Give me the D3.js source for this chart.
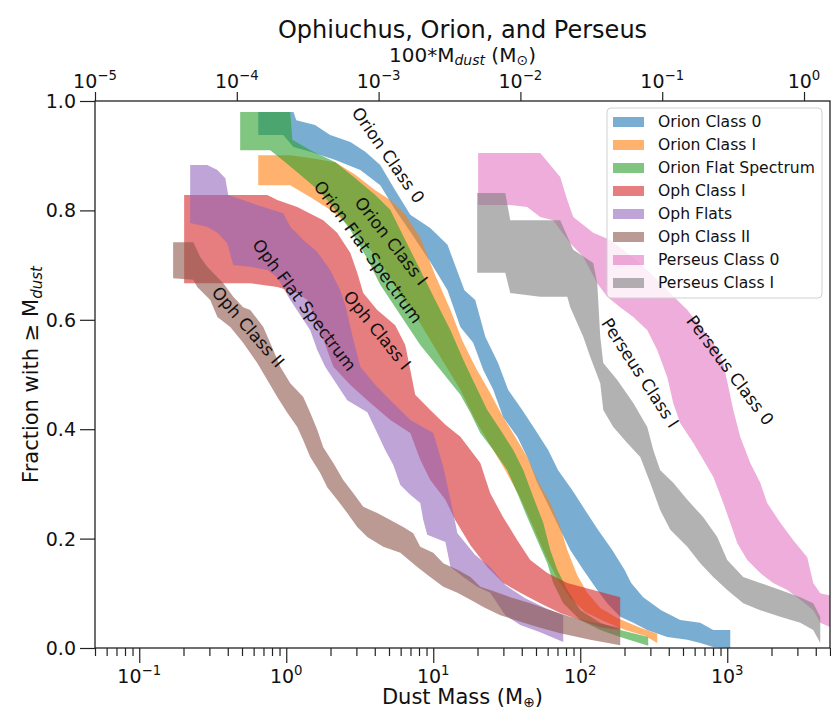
<!DOCTYPE html>
<html>
<head>
<meta charset="utf-8">
<script src="https://cdn.jsdelivr.net/npm/d3@7/dist/d3.min.js"></script>
<style>
  body { margin: 0; background: #fff; }
  svg { display: block; }
  text { font-family: "DejaVu Sans", sans-serif; fill: #111; }
</style>
</head>
<body>
<svg id="chart" width="831" height="711"></svg>
<script>
// ---- axis ticks ----
const massTicks = [0.1, 1, 10, 100, 1000];
const massTickExp = ["\u22121", "0", "1", "2", "3"];
const topTicks = [1e-5, 1e-4, 1e-3, 1e-2, 1e-1, 1];
const topTickExp = ["\u22125", "\u22124", "\u22123", "\u22122", "\u22121", "0"];
const fracTicks = [0, 0.2, 0.4, 0.6, 0.8, 1.0];

// ---- series (legend order) ----
const seriesNames = ["Orion Class 0", "Orion Class I", "Orion Flat Spectrum", "Oph Class I",
  "Oph Flats", "Oph Class II", "Perseus Class 0", "Perseus Class I"];
const seriesColors = ["#1f77b4", "#ff7f0e", "#2ca02c", "#d62728",
  "#9467bd", "#8c564b", "#e377c2", "#7f7f7f"];

// Each band: upper/right boundary and lower/left boundary as [dust mass (M_earth), fraction]
const orionClass0Upper = [[0.645,0.980],[1.12,0.980],[1.17,0.965],[1.57,0.956],[1.99,0.938],[2.73,0.925],[3.45,0.907],[4.36,0.883],[5.51,0.837],[6.98,0.792],[9.54,0.768],[12.5,0.737],[16.3,0.654],[19.3,0.636],[22.6,0.569],[27.6,0.521],[32.3,0.472],[40.3,0.435],[49.4,0.399],[60.5,0.362],[70.7,0.325],[88.1,0.289],[108,0.252],[132,0.216],[165,0.179],[200,0.143],[222,0.119],[268,0.093],[355,0.069],[479,0.051],[655,0.046],[803,0.033],[1048,0.033]];
const orionClass0Lower = [[0.645,0.938],[0.954,0.938],[1.12,0.916],[1.46,0.907],[2.16,0.892],[3.19,0.874],[4.36,0.846],[5.51,0.801],[6.98,0.761],[9.54,0.706],[12.5,0.654],[15.3,0.587],[18.7,0.558],[21.9,0.508],[25.6,0.472],[29.9,0.422],[37.3,0.386],[43.6,0.349],[51.0,0.302],[59.7,0.265],[73.1,0.216],[85.5,0.179],[104.8,0.143],[130.5,0.106],[152.6,0.082],[187,0.057],[229.5,0.046],[285.6,0.033],[391,0.020],[535,0.015],[655,0.009],[803,0.002],[1048,0.0]];

const orionClass1Upper = [[0.645,0.901],[1.065,0.901],[1.46,0.896],[2.16,0.888],[2.95,0.865],[4.03,0.837],[5.10,0.819],[6.45,0.792],[8.16,0.750],[10.3,0.682],[13.1,0.618],[15.7,0.563],[19.3,0.514],[24.4,0.466],[29.9,0.422],[37.3,0.380],[43.6,0.349],[51.0,0.307],[62.5,0.265],[73.1,0.221],[81.6,0.179],[95.4,0.133],[111.6,0.101],[136.8,0.073],[178.6,0.055],[256,0.037],[334,0.026]];
const orionClass1Lower = [[0.645,0.846],[1.065,0.846],[1.46,0.824],[1.99,0.801],[2.73,0.770],[3.73,0.728],[4.71,0.691],[5.97,0.645],[7.54,0.609],[9.54,0.563],[12.1,0.517],[15.3,0.472],[19.3,0.417],[24.4,0.371],[30.9,0.325],[39.1,0.274],[47.2,0.225],[57.8,0.170],[70.8,0.124],[85.5,0.091],[108.2,0.066],[147.9,0.048],[202.5,0.033],[276.7,0.022],[334,0.009]];

const orionFlatUpper = [[0.486,0.980],[1.065,0.980],[1.099,0.929],[1.46,0.910],[2.16,0.888],[2.95,0.859],[4.03,0.828],[5.10,0.801],[6.45,0.746],[8.16,0.691],[10.3,0.636],[13.1,0.581],[16.0,0.527],[19.3,0.481],[23.3,0.435],[28.6,0.399],[35.0,0.362],[41.0,0.325],[47.9,0.276],[56.0,0.229],[62.5,0.179],[69.8,0.143],[81.6,0.106],[100,0.069],[136.8,0.046],[187,0.033],[290,0.020]];
const orionFlatLower = [[0.486,0.910],[0.778,0.910],[0.984,0.888],[1.245,0.865],[1.70,0.834],[2.16,0.801],[2.73,0.764],[3.45,0.718],[4.36,0.664],[5.97,0.609],[8.16,0.554],[11.2,0.508],[15.3,0.463],[17.9,0.430],[20.9,0.393],[25.6,0.362],[31.9,0.325],[37.3,0.283],[43.6,0.239],[51.0,0.197],[59.7,0.155],[65.5,0.119],[76.6,0.082],[100,0.051],[136.8,0.033],[187,0.020],[290,0.004]];

const ophClass1Upper = [[0.202,0.828],[0.743,0.828],[0.869,0.819],[1.188,0.806],[1.785,0.782],[2.22,0.759],[2.73,0.722],[3.04,0.686],[3.34,0.649],[4.16,0.618],[5.51,0.590],[6.45,0.554],[6.98,0.508],[7.54,0.463],[9.54,0.435],[12.1,0.408],[15.3,0.386],[20.9,0.338],[24.4,0.283],[29.9,0.239],[37.3,0.197],[45.7,0.161],[59.7,0.137],[81.6,0.119],[122.5,0.106],[187,0.093]];
const ophClass1Lower = [[0.202,0.667],[0.569,0.667],[0.869,0.660],[1.188,0.649],[1.39,0.636],[1.70,0.581],[2.09,0.514],[2.73,0.481],[3.56,0.453],[5.10,0.417],[6.98,0.393],[8.16,0.344],[9.54,0.307],[12.1,0.271],[14.1,0.234],[17.9,0.188],[23.3,0.148],[29.9,0.119],[39.1,0.101],[53.4,0.082],[73.1,0.064],[100,0.051],[136.8,0.038],[187,0.033]];

const ophFlatsUpper = [[0.222,0.883],[0.290,0.883],[0.340,0.874],[0.385,0.859],[0.403,0.828],[0.698,0.806],[0.954,0.795],[1.065,0.770],[1.305,0.746],[1.625,0.724],[1.99,0.691],[2.33,0.654],[2.52,0.627],[2.81,0.572],[3.19,0.514],[4.03,0.481],[5.10,0.453],[6.98,0.417],[10.0,0.393],[11.7,0.331],[13.1,0.271],[14.6,0.210],[19.3,0.170],[24.4,0.148],[30.9,0.115],[42.2,0.091],[57.8,0.073],[76.6,0.060]];
const ophFlatsLower = [[0.222,0.777],[0.290,0.770],[0.340,0.759],[0.397,0.740],[0.436,0.700],[0.569,0.697],[0.743,0.691],[0.869,0.678],[1.065,0.636],[1.245,0.609],[1.456,0.581],[1.625,0.545],[1.84,0.514],[2.60,0.453],[3.56,0.431],[4.16,0.393],[4.71,0.362],[5.34,0.335],[5.97,0.298],[6.98,0.280],[8.16,0.265],[8.55,0.234],[9.10,0.207],[12.1,0.194],[13.1,0.148],[16.0,0.130],[19.9,0.112],[24.4,0.101],[30.9,0.060],[39.1,0.042],[53.4,0.029],[76.6,0.011]];

const ophClass2Upper = [[0.170,0.742],[0.233,0.742],[0.260,0.715],[0.290,0.697],[0.340,0.678],[0.373,0.667],[0.436,0.642],[0.509,0.623],[0.569,0.618],[0.698,0.587],[0.816,0.545],[0.910,0.514],[1.065,0.484],[1.305,0.459],[1.456,0.430],[1.625,0.399],[1.785,0.367],[2.09,0.338],[2.44,0.307],[2.86,0.283],[3.34,0.258],[4.16,0.247],[5.10,0.234],[6.25,0.221],[7.31,0.210],[8.16,0.185],[10.0,0.174],[11.7,0.155],[14.6,0.143],[17.9,0.130],[20.9,0.112],[24.4,0.106],[33.4,0.093],[45.7,0.082],[62.5,0.069],[85.5,0.057],[117,0.048],[187,0.037]];
const ophClass2Lower = [[0.170,0.676],[0.233,0.673],[0.248,0.660],[0.304,0.636],[0.340,0.605],[0.416,0.587],[0.509,0.558],[0.635,0.521],[0.743,0.490],[0.869,0.459],[1.016,0.430],[1.188,0.404],[1.305,0.380],[1.456,0.349],[1.703,0.320],[1.90,0.294],[2.22,0.271],[2.60,0.247],[3.04,0.221],[3.56,0.203],[4.57,0.185],[5.97,0.174],[7.78,0.148],[9.54,0.130],[11.7,0.112],[14.6,0.101],[17.9,0.088],[21.9,0.075],[28.6,0.060],[39.1,0.048],[53.4,0.037],[73.1,0.027],[117,0.015],[187,0.005]];

const perseus0Upper = [[20.2,0.905],[53.4,0.905],[73.1,0.861],[81.6,0.819],[89.6,0.788],[122.5,0.759],[160,0.746],[219,0.718],[286,0.691],[391,0.654],[535,0.618],[687,0.581],[803,0.558],[940,0.521],[1099,0.435],[1225,0.386],[1434,0.338],[1676,0.302],[1870,0.265],[2294,0.229],[2813,0.197],[3500,0.166],[3846,0.119],[4292,0.100],[6000,0.091]];
const perseus0Lower = [[20.2,0.810],[33.4,0.810],[43.6,0.806],[53.4,0.788],[65.5,0.782],[73.1,0.764],[85.5,0.740],[104.8,0.715],[130.5,0.667],[152.6,0.642],[187,0.623],[229.5,0.605],[286,0.581],[334,0.545],[391,0.495],[429,0.448],[479,0.411],[588,0.375],[687,0.344],[803,0.313],[940,0.265],[1048,0.229],[1169,0.192],[1368,0.161],[1676,0.137],[2054,0.119],[2561,0.106],[3139,0.088],[3846,0.069],[4292,0.046],[6000,0.029]];

const perseus1Upper = [[19.9,0.832],[30.9,0.832],[33.4,0.782],[73.1,0.782],[89.6,0.728],[122.5,0.704],[130.5,0.667],[136.8,0.569],[143.4,0.521],[178.6,0.490],[229.5,0.448],[285.6,0.404],[313.9,0.362],[350,0.325],[429,0.302],[535,0.271],[687,0.239],[855,0.203],[1000,0.161],[1284,0.130],[1676,0.119],[2294,0.106],[3139,0.093],[3846,0.082],[4292,0.057]];
const perseus1Lower = [[19.9,0.686],[30.9,0.686],[33.4,0.649],[53.4,0.642],[81.6,0.642],[85.5,0.623],[104.8,0.569],[117,0.532],[136.8,0.484],[143.4,0.435],[167.7,0.404],[208.8,0.375],[256,0.349],[299,0.302],[350,0.252],[410,0.216],[535,0.185],[655,0.155],[803,0.130],[1000,0.106],[1284,0.082],[1676,0.069],[2294,0.057],[3139,0.046],[3846,0.033],[4292,0.009]];

const bandEdges = [
  [orionClass0Upper, orionClass0Lower], [orionClass1Upper, orionClass1Lower],
  [orionFlatUpper, orionFlatLower], [ophClass1Upper, ophClass1Lower],
  [ophFlatsUpper, ophFlatsLower], [ophClass2Upper, ophClass2Lower],
  [perseus0Upper, perseus0Lower], [perseus1Upper, perseus1Lower]
];

// In-plot labels: text, anchor [mass, fraction], rotation (deg)
const curveLabels = [
  ["Orion Class 0", 4.94, 0.901, 55],
  ["Orion Class I", 5.18, 0.744, 52],
  ["Orion Flat Spectrum", 3.61, 0.724, 54],
  ["Oph Flat Spectrum", 1.33, 0.627, 53],
  ["Oph Class I", 4.16, 0.581, 51],
  ["Oph Class II", 0.551, 0.587, 49],
  ["Perseus Class I", 256, 0.503, 57],
  ["Perseus Class 0", 1048, 0.508, 53]
];

// ---- layout ----
const svg = d3.select("#chart");
const L = 95, R = 830, T = 101, B = 648;

const x = d3.scaleLog().domain([0.05, 5000]).range([L, R]);
const xTop = d3.scaleLog().domain([1e-5, 1.525]).range([L, R]);
const y = d3.scaleLinear().domain([0, 1]).range([B, T]);

svg.append("defs").append("clipPath").attr("id", "plotClip")
  .append("rect").attr("x", L).attr("y", T).attr("width", R - L).attr("height", B - T);

// ---- bands ----
const edgeLine = d3.line().x(d => x(d[0])).y(d => y(d[1]));
const bands = svg.append("g").attr("clip-path", "url(#plotClip)");
bandEdges.forEach(([upper, lower], i) => {
  const pts = upper.concat(lower.slice().reverse());
  bands.append("path")
    .attr("d", edgeLine(pts) + "Z")
    .attr("fill", seriesColors[i])
    .attr("fill-opacity", 0.6)
    .attr("stroke", "none");
});

// ---- in-plot labels ----
const labelG = svg.append("g");
curveLabels.forEach(([txt, m, f, ang]) => {
  labelG.append("text")
    .attr("transform", `translate(${x(m)},${y(f)}) rotate(${ang})`)
    .attr("text-anchor", "middle")
    .attr("dominant-baseline", "central")
    .style("font-size", "17px")
    .text(txt);
});

// ---- axes ----
const minorMass = [];
for (let e = -2; e <= 3; e++) for (let k = 2; k <= 9; k++) {
  const v = k * Math.pow(10, e);
  if (v >= 0.05 && v <= 5000) minorMass.push(v);
}

const gx = svg.append("g").attr("transform", `translate(0,${B})`);
gx.call(d3.axisBottom(x).tickValues(massTicks).tickSize(15).tickFormat(""));
const gxm = svg.append("g").attr("transform", `translate(0,${B})`);
gxm.call(d3.axisBottom(x).tickValues(minorMass).tickSize(8).tickFormat(""));
[gx, gxm].forEach(g => { g.select(".domain").remove(); g.selectAll("line").attr("stroke", "#222").attr("stroke-width", 1.2); });

const gt = svg.append("g").attr("transform", `translate(0,${T})`);
gt.call(d3.axisTop(xTop).tickValues(topTicks).tickSize(9).tickFormat(""));
gt.select(".domain").remove();
gt.selectAll("line").attr("stroke", "#222").attr("stroke-width", 1.2);

const gy = svg.append("g").attr("transform", `translate(${L},0)`);
gy.call(d3.axisLeft(y).tickValues(fracTicks).tickSize(15).tickFormat(""));
gy.select(".domain").remove();
gy.selectAll("line").attr("stroke", "#222").attr("stroke-width", 1.2);

// frame
svg.append("rect").attr("x", L).attr("y", T).attr("width", R - L).attr("height", B - T)
  .attr("fill", "none").attr("stroke", "#222").attr("stroke-width", 1.3);

// power-of-ten tick labels
function powLabel(g, xp, yp, exp) {
  const t = g.append("text").attr("x", xp).attr("y", yp).attr("text-anchor", "middle")
    .style("font-size", "19px");
  t.append("tspan").text("10");
  t.append("tspan").attr("dy", -8.5).style("font-size", "13.3px").text(exp);
}
massTicks.forEach((v, i) => powLabel(svg, x(v), 683, massTickExp[i]));
topTicks.forEach((v, i) => powLabel(svg, xTop(v), 88, topTickExp[i]));

fracTicks.forEach(v => {
  svg.append("text").attr("x", 76).attr("y", y(v)).attr("text-anchor", "end")
    .attr("dominant-baseline", "central").style("font-size", "19px").text(v.toFixed(1));
});

// titles
svg.append("text").attr("x", (L + R) / 2).attr("y", 38).attr("text-anchor", "middle")
  .style("font-size", "24px").text("Ophiuchus, Orion, and Perseus");

const topLab = svg.append("text").attr("x", (L + R) / 2).attr("y", 62).attr("text-anchor", "middle")
  .style("font-size", "20px");
topLab.append("tspan").text("100*M");
topLab.append("tspan").attr("dy", 3).style("font-size", "14px").style("font-style", "italic").text("dust");
topLab.append("tspan").attr("dy", -3).text(" (M");
topLab.append("tspan").attr("dy", 3).style("font-size", "14px").text("\u2299");
topLab.append("tspan").attr("dy", -3).text(")");

const xLab = svg.append("text").attr("x", (L + R) / 2).attr("y", 704).attr("text-anchor", "middle")
  .style("font-size", "21px");
xLab.append("tspan").text("Dust Mass (M");
xLab.append("tspan").attr("dy", 2.5).style("font-size", "14px").text("\u2295");
xLab.append("tspan").attr("dy", -2.5).text(")");

const yLab = svg.append("text").attr("transform", `translate(38,${(T + B) / 2}) rotate(-90)`)
  .attr("text-anchor", "middle").style("font-size", "21px");
yLab.append("tspan").text("Fraction with \u2265 M");
yLab.append("tspan").attr("dy", 4).style("font-size", "15px").style("font-style", "italic").text("dust");

// ---- legend ----
const lg = svg.append("g");
lg.append("rect").attr("x", 607).attr("y", 108).attr("width", 215).attr("height", 190)
  .attr("rx", 4).attr("fill", "#fff").attr("fill-opacity", 0.8)
  .attr("stroke", "#d0d0d0").attr("stroke-width", 1);
seriesNames.forEach((name, i) => {
  const cy = 122 + i * 23;
  lg.append("rect").attr("x", 613).attr("y", cy - 5).attr("width", 31).attr("height", 10)
    .attr("fill", seriesColors[i]).attr("fill-opacity", 0.6);
  lg.append("text").attr("x", 658).attr("y", cy).attr("dominant-baseline", "central")
    .style("font-size", "15.6px").text(name);
});
</script>
</body>
</html>
